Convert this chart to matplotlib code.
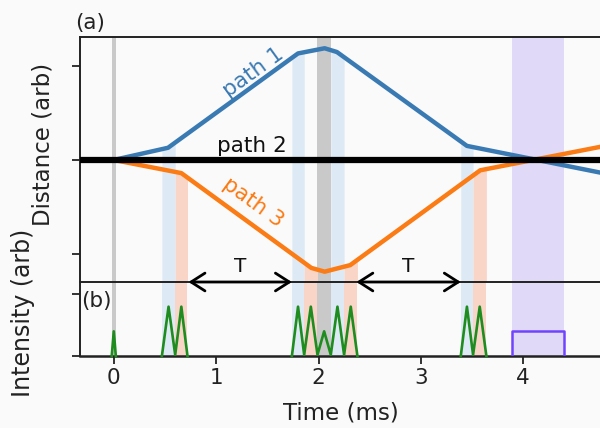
import matplotlib
matplotlib.use("Agg")
import matplotlib.pyplot as plt
import numpy as np

# ---------------- data ----------------
# path trajectories (time in ms, distance in arb units)
path1_t = [0.0, 0.53, 1.80, 2.06, 2.18, 3.45, 4.80]
path1_y = [0.0, 0.13, 1.135, 1.19, 1.15, 0.15, -0.145]
path3_t = [0.0, 0.66, 1.93, 2.06, 2.31, 3.58, 4.80]
path3_y = [0.0, -0.14, -1.15, -1.19, -1.12, -0.11, 0.15]

# pulse bands (start, end)
blue_bands = [(0.47, 0.60), (1.74, 1.86), (2.12, 2.25), (3.39, 3.51)]
salmon_bands = [(0.60, 0.72), (1.86, 1.99), (2.25, 2.38), (3.51, 3.64)]
gray_bands = [(-0.02, 0.02), (1.99, 2.12)]
purple_band = (3.89, 4.40)

# intensity trace (groups of pulses)
pulse_groups_t = [
    [-0.02, 0.0, 0.02],
    [0.47, 0.535, 0.60, 0.66, 0.72],
    [1.74, 1.80, 1.86, 1.925, 1.99, 2.055, 2.12, 2.185, 2.25, 2.315, 2.38],
    [3.39, 3.45, 3.51, 3.575, 3.64],
]
pulse_groups_i = [
    [0.0, 0.4, 0.0],
    [0.0, 0.8, 0.02, 0.8, 0.0],
    [0.0, 0.8, 0.02, 0.8, 0.02, 0.4, 0.02, 0.8, 0.02, 0.8, 0.0],
    [0.0, 0.8, 0.02, 0.8, 0.0],
]
box_t = [3.89, 3.89, 4.40, 4.40]
box_i = [0.0, 0.4, 0.4, 0.0]

T_arrows = [(0.73, 1.74), (2.37, 3.39)]
xticks = [0, 1, 2, 3, 4]

# ---------------- style ----------------
BG = "#fafafa"
C_BLUE = "#3a7ab3"
C_ORANGE = "#fb7b14"
C_BBAND = "#dde9f4"
C_SBAND = "#f9d5c8"
C_GBAND = "#c9c9c9"
C_PBAND = "#e0d9f8"
C_PURPLE = "#7044ff"
C_TXT = "#222222"

W, H = 600, 428
fig = plt.figure(figsize=(6, 4.28), dpi=100, facecolor=BG)

def fx(px):
    return px / W

def fy(py):
    return 1 - py / H

ax_a = fig.add_axes([fx(80), fy(282), 520 / W, (282 - 37) / H], facecolor=BG)
ax_b = fig.add_axes([fx(80), fy(356), 520 / W, (356 - 282) / H], facecolor=BG)

XLIM = (-0.33, 4.75)
YA = (-1.30, 1.31)
YB = (0, 1.2)
for ax in (ax_a, ax_b):
    ax.set_xlim(*XLIM)
    ax.spines["right"].set_visible(False)
    for s in ax.spines.values():
        s.set_linewidth(1.4)
        s.set_color(C_TXT)
    ax.tick_params(length=5.5, width=1.3, color=C_TXT)
ax_a.set_ylim(*YA)
ax_b.set_ylim(*YB)
ax_a.spines["bottom"].set_visible(False)
ax_b.spines["bottom"].set_linewidth(1.8)

# ---- bands ----
for (a, b) in gray_bands:
    ax_a.axvspan(a, b, color=C_GBAND, lw=0, zorder=1)
    ax_b.axvspan(a, b, color=C_GBAND, lw=0, zorder=1)
ax_a.axvspan(*purple_band, color=C_PBAND, lw=0, zorder=1)
ax_b.axvspan(*purple_band, color=C_PBAND, lw=0, zorder=1)
for (a, b) in blue_bands:
    xs = np.linspace(a, b, 20)
    ax_a.fill_between(xs, np.interp(xs, path1_t, path1_y), YA[0], color=C_BBAND, lw=0, zorder=1)
    ax_b.axvspan(a, b, color=C_BBAND, lw=0, zorder=1)
for (a, b) in salmon_bands:
    xs = np.linspace(a, b, 20)
    ax_a.fill_between(xs, np.interp(xs, path3_t, path3_y), YA[0], color=C_SBAND, lw=0, zorder=1)
    ax_b.axvspan(a, b, color=C_SBAND, lw=0, zorder=1)

# ---- paths ----
ax_a.axhline(0, color="black", lw=4.5, zorder=4)
ax_a.plot(path1_t, path1_y, color=C_BLUE, lw=3.2, zorder=3, solid_joinstyle="round")
ax_a.plot(path3_t, path3_y, color=C_ORANGE, lw=3.2, zorder=3, solid_joinstyle="round")

ax_a.text(1.36, 0.936, "path 1", color=C_BLUE, fontsize=15.5, rotation=36,
          rotation_mode="anchor", ha="center", va="center", zorder=5)
ax_a.text(1.35, 0.15, "path 2", color="#111111", fontsize=15.5,
          ha="center", va="center", zorder=5)
ax_a.text(1.36, -0.452, "path 3", color=C_ORANGE, fontsize=15.5, rotation=-36,
          rotation_mode="anchor", ha="center", va="center", zorder=5)

# ---- T arrows (drawn in panel b so they sit on top of both panels) ----
for (a, b) in T_arrows:
    ax_b.annotate("", xy=(b, YB[1]), xytext=(a, YB[1]),
                  arrowprops=dict(arrowstyle="<->,head_length=0.5,head_width=0.32",
                                  lw=2.0, color="black",
                                  mutation_scale=20, shrinkA=0, shrinkB=0),
                  annotation_clip=False, zorder=6)
    ax_a.text((a + b) / 2, -1.14, "T", fontsize=14.5, ha="center", va="center",
              color="#111111", zorder=6)

ax_a.set_xticks([])
ax_a.set_yticks([-1, 0, 1])
ax_a.set_yticklabels([])

# ---- panel (b) ----
for ts, vs in zip(pulse_groups_t, pulse_groups_i):
    ax_b.plot(ts, vs, color="#1e8c1e", lw=1.9, zorder=3, clip_on=False,
              solid_joinstyle="round")
ax_b.plot(box_t, box_i, color=C_PURPLE, lw=1.8, zorder=3)
ax_b.set_yticks([0, 1])
ax_b.set_yticklabels([])
ax_b.set_xticks(xticks)
ax_b.set_xticklabels([str(v) for v in xticks], fontsize=15.5, color=C_TXT)

# ---- labels ----
fig.text(fx(75), fy(23.5), "(a)", fontsize=15.5, ha="left", va="center", color=C_TXT)
fig.text(fx(81), fy(301), "(b)", fontsize=15.5, ha="left", va="center", color=C_TXT, zorder=7)
fig.text(fx(43), fy(144.5), "Distance (arb)", fontsize=16.5, rotation=90,
         ha="center", va="center", color=C_TXT)
fig.text(fx(23), fy(312.5), "Intensity (arb)", fontsize=17, rotation=90,
         ha="center", va="center", color=C_TXT)
fig.text(fx(341), fy(413), "Time (ms)", fontsize=16.5, ha="center", va="center", color=C_TXT)

fig.savefig("out.png", dpi=100, facecolor=BG)
